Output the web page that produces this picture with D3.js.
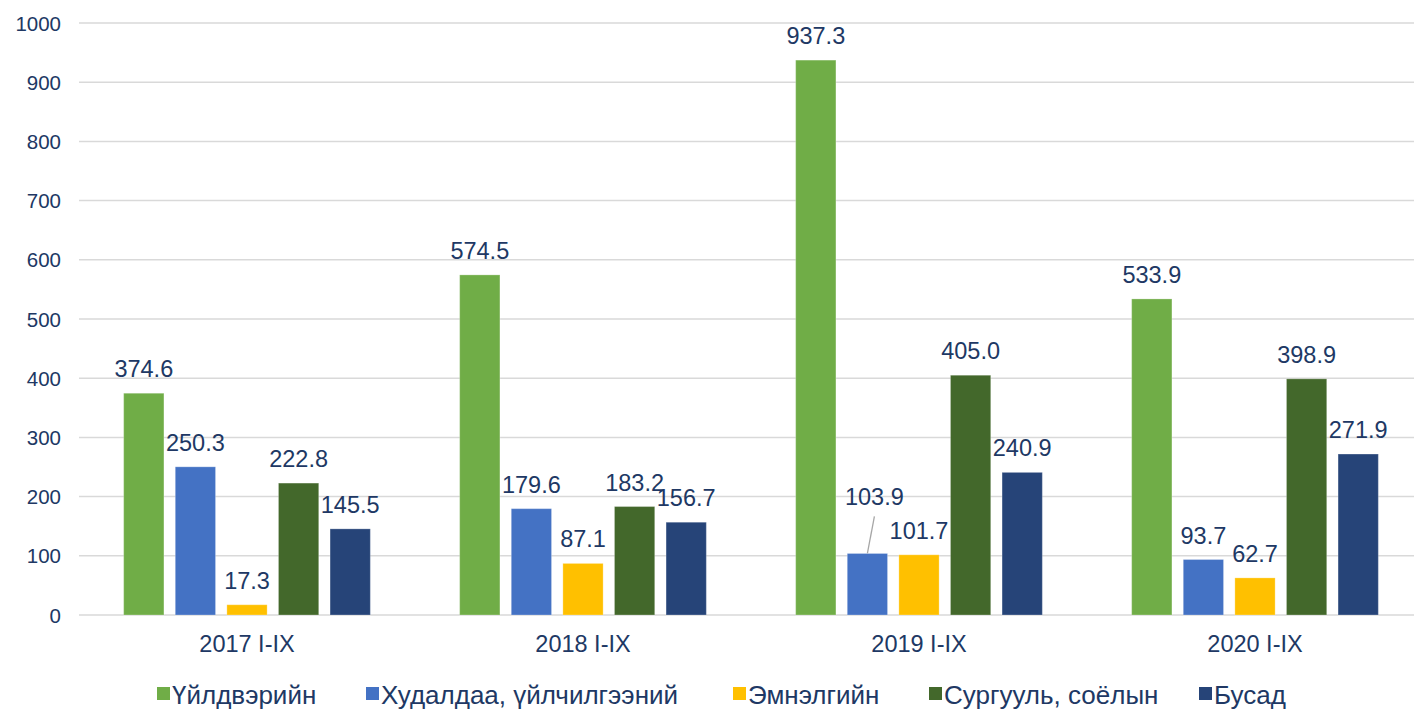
<!DOCTYPE html>
<html><head><meta charset="utf-8">
<script src="https://cdn.jsdelivr.net/npm/d3@7"></script>
<style>
html,body{margin:0;padding:0;background:#fff;}
svg{display:block;}
text{font-family:"Liberation Sans",Arial,sans-serif;fill:#203864;}
</style></head>
<body>
<svg id="chart" width="1414" height="710"></svg>
<script>
const categories = ["2017 I-IX","2018 I-IX","2019 I-IX","2020 I-IX"];
const seriesNames = ["Үйлдвэрийн","Худалдаа, үйлчилгээний","Эмнэлгийн","Сургууль, соёлын","Бусад"];
const manufacturing = [374.6, 574.5, 937.3, 533.9];
const tradeService = [250.3, 179.6, 103.9, 93.7];
const hospital = [17.3, 87.1, 101.7, 62.7];
const schoolCulture = [222.8, 183.2, 405.0, 398.9];
const other = [145.5, 156.7, 240.9, 271.9];
const yTicks = [0,100,200,300,400,500,600,700,800,900,1000];
const colors = ["#70ad47","#4472c4","#ffc000","#43682b","#264478"];

const seriesValues = [manufacturing, tradeService, hospital, schoolCulture, other];

const svg = d3.select("#chart");

const y = d3.scaleLinear().domain([0,1000]).range([615,23]);
const x0 = d3.scaleBand().domain(categories).range([79,1423]).paddingInner(0).paddingOuter(0);
const x1 = d3.scaleBand().domain(seriesNames).range([39, x0.bandwidth()-39]).paddingInner(0.22).paddingOuter(0.11);

// gridlines
const grid = svg.append("g").attr("class","grid");
grid.selectAll("line").data(yTicks).join("line")
  .attr("x1",79).attr("x2",1423)
  .attr("y1",d=>y(d)).attr("y2",d=>y(d))
  .attr("stroke","#d9d9d9").attr("stroke-width",1.5);

// y axis labels
const yAxis = d3.axisLeft(y).tickValues(yTicks).tickFormat(d3.format("d")).tickSize(0).tickPadding(0);
const ya = svg.append("g").attr("transform","translate(61,0)").call(yAxis);
ya.select(".domain").remove();
ya.selectAll("text").attr("font-size",20.5).attr("font-family",null).style("fill","#203864").attr("dy","0.35em");

// x axis labels
const xAxis = d3.axisBottom(x0).tickSize(0).tickPadding(0);
const xa = svg.append("g").attr("transform","translate(0,652)").call(xAxis);
xa.select(".domain").remove();
xa.selectAll("text").attr("font-size",23.5).attr("font-family",null).style("fill","#203864").attr("dy",0).attr("y",0);

// bars
const data = [];
categories.forEach((c,ci)=>{
  seriesNames.forEach((s,si)=>{
    data.push({cat:c, ser:s, si, ci, v:seriesValues[si][ci]});
  });
});

svg.append("g").selectAll("rect").data(data).join("rect")
  .attr("x",d=>x0(d.cat)+x1(d.ser))
  .attr("y",d=>y(d.v))
  .attr("width",x1.bandwidth())
  .attr("height",d=>y(0)-y(d.v))
  .attr("fill",d=>colors[d.si])
  .attr("stroke","rgba(255,255,255,0.25)").attr("stroke-width",1);

// labels
const lbl = svg.append("g");
data.forEach(d=>{
  const cx = x0(d.cat)+x1(d.ser)+x1.bandwidth()/2;
  const top = y(d.v);
  const special = (d.si===1 && d.ci===2);
  if(special){
    const tx = cx+7, ty = top-48;
    lbl.append("line").attr("x1",cx).attr("y1",top).attr("x2",tx).attr("y2",top-37)
      .attr("stroke","#a6a6a6").attr("stroke-width",1.3);
    lbl.append("text").attr("x",tx).attr("y",ty).attr("text-anchor","middle")
      .attr("font-size",23.5).text(d.v.toFixed(1));
  } else {
    lbl.append("text").attr("x",cx).attr("y",top-16).attr("text-anchor","middle")
      .attr("font-size",23.5).text(d.v.toFixed(1));
  }
});

// legend
const legendX = [157, 366, 733, 929, 1199];
const lg = svg.append("g");
seriesNames.forEach((s,i)=>{
  const g = lg.append("g").attr("transform",`translate(${legendX[i]},0)`);
  g.append("rect").attr("x",0).attr("y",687).attr("width",13).attr("height",13).attr("fill",colors[i]);
  g.append("text").attr("x",15).attr("y",704).attr("font-size",26).text(s);
});
</script>
</body></html>
